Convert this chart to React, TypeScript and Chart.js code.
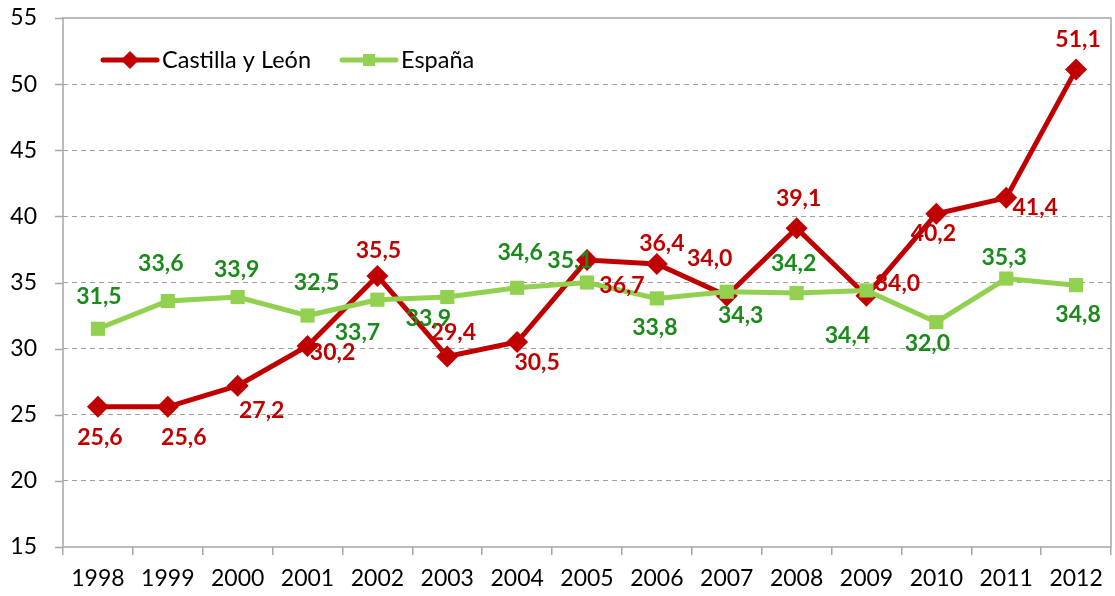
import React, { useEffect, useRef } from "react";
import { Chart, registerables } from "chart.js";

Chart.register(...registerables);

const years = ["1998", "1999", "2000", "2001", "2002", "2003", "2004", "2005", "2006", "2007", "2008", "2009", "2010", "2011", "2012"];
const castillaLeon = [25.6, 25.6, 27.2, 30.2, 35.5, 29.4, 30.5, 36.7, 36.4, 34.0, 39.1, 34.0, 40.2, 41.4, 51.1];
const espana = [31.5, 33.6, 33.9, 32.5, 33.7, 33.9, 34.6, 35.0, 33.8, 34.3, 34.2, 34.4, 32.0, 35.3, 34.8];
const castillaLeonLabels = ["25,6", "25,6", "27,2", "30,2", "35,5", "29,4", "30,5", "36,7", "36,4", "34,0", "39,1", "34,0", "40,2", "41,4", "51,1"];
const espanaLabels = ["31,5", "33,6", "33,9", "32,5", "33,7", "33,9", "34,6", "35,1", "33,8", "34,3", "34,2", "34,4", "32,0", "35,3", "34,8"];
const yTicks = [15, 20, 25, 30, 35, 40, 45, 50, 55];

// label offsets (px) relative to each point
const cylDx = [2, 16, 24, 25, 1, 6, 20, 35, 5, -17, 2, 31, -3, 29, 2];
const cylDy = [31, 31, 25, 7, -25, -24, 21, 26, -20, -37, -30, -12, 20, 10, -30];
const espDx = [1, -7, -1, 9, -20, -19, 3, -17, -2, 14, -3, -19, -9, -2, 2];
const espDy = [-32, -37, -27, -33, 33, 22, -35, -22, 29, 24, -30, 45, 21, -21, 29];

const RED = "#C00000";
const GREEN_LINE = "#92D050";
const GREEN_TEXT = "#1A8A1A";
const FONT = "Lato, 'Open Sans', sans-serif";

const labelPlugin = {
  id: "valueLabels",
  afterDatasetsDraw(chart: any) {
    const ctx = chart.ctx;
    ctx.save();
    ctx.font = `bold 23px ${FONT}`;
    ctx.textAlign = "center";
    ctx.textBaseline = "middle";
    const sets = [
      { idx: 0, labels: castillaLeonLabels, dx: cylDx, dy: cylDy, color: RED },
      { idx: 1, labels: espanaLabels, dx: espDx, dy: espDy, color: GREEN_TEXT },
    ];
    for (const s of sets) {
      const meta = chart.getDatasetMeta(s.idx);
      ctx.fillStyle = s.color;
      meta.data.forEach((pt: any, i: number) => {
        ctx.fillText(s.labels[i], pt.x + s.dx[i], pt.y + s.dy[i]);
      });
    }
    ctx.restore();
  },
};

const frameLegendPlugin = {
  id: "frameLegend",
  beforeDatasetsDraw(chart: any) {
    const { ctx, chartArea, scales } = chart;
    ctx.save();
    ctx.strokeStyle = "#A6A6A6";
    ctx.lineWidth = 1.5;
    ctx.strokeRect(chartArea.left, chartArea.top, chartArea.right - chartArea.left, chartArea.bottom - chartArea.top);
    for (const v of yTicks) {
      const y = Math.round(scales.y.getPixelForValue(v)) + 0.5;
      ctx.beginPath();
      ctx.moveTo(chartArea.left - 8, y);
      ctx.lineTo(chartArea.left, y);
      ctx.stroke();
    }
    ctx.restore();
  },
  afterDraw(chart: any) {
    const { ctx, chartArea } = chart;
    const y = chartArea.top + 42;
    const items = [
      { x: chartArea.left + 40, label: "Castilla y León", color: RED, style: "rectRot", r: 9 },
      { x: chartArea.left + 279, label: "España", color: GREEN_LINE, style: "rect", r: 8 },
    ];
    ctx.save();
    for (const it of items) {
      ctx.strokeStyle = it.color;
      ctx.lineWidth = 5;
      ctx.lineCap = "round";
      ctx.beginPath();
      ctx.moveTo(it.x, y);
      ctx.lineTo(it.x + 54, y);
      ctx.stroke();
      ctx.fillStyle = it.color;
      ctx.beginPath();
      if (it.style === "rectRot") {
        ctx.moveTo(it.x + 27, y - it.r);
        ctx.lineTo(it.x + 27 + it.r, y);
        ctx.lineTo(it.x + 27, y + it.r);
        ctx.lineTo(it.x + 27 - it.r, y);
      } else {
        const s = it.r * 0.75;
        ctx.rect(it.x + 27 - s, y - s, 2 * s, 2 * s);
      }
      ctx.closePath();
      ctx.fill();
      ctx.fillStyle = "#000";
      ctx.font = `23.5px ${FONT}`;
      ctx.textAlign = "left";
      ctx.textBaseline = "middle";
      ctx.fillText(it.label, it.x + 59, y);
    }
    ctx.restore();
  },
};

export default function App() {
  const ref = useRef<HTMLCanvasElement>(null);
  useEffect(() => {
    if (!ref.current) return;
    const chart = new Chart(ref.current, {
      type: "line",
      data: {
        labels: years,
        datasets: [
          {
            label: "Castilla y León",
            data: castillaLeon,
            borderColor: RED,
            backgroundColor: RED,
            borderWidth: 5,
            pointStyle: "rectRot",
            pointRadius: 11,
            pointBorderWidth: 0,
            tension: 0,
            order: 1,
          },
          {
            label: "España",
            data: espana,
            borderColor: GREEN_LINE,
            backgroundColor: GREEN_LINE,
            borderWidth: 5,
            pointStyle: "rect",
            pointRadius: 10,
            pointBorderWidth: 0,
            tension: 0,
            order: 0,
          },
        ],
      },
      options: {
        animation: false,
        responsive: true,
        maintainAspectRatio: false,
        layout: { padding: { top: 18, right: 0, left: 0, bottom: 0 } },
        plugins: {
          legend: { display: false },
          tooltip: { enabled: false },
        },
        scales: {
          x: {
            offset: true,
            grid: {
              offset: true,
              drawOnChartArea: false,
              drawTicks: true,
              tickLength: 8,
              color: "#A6A6A6",
              lineWidth: 1.5,
            },
            border: { display: false },
            ticks: {
              color: "#000",
              font: { family: FONT, size: 23 },
              padding: 10,
              maxRotation: 0,
              autoSkip: false,
            },
            afterFit(scale: any) {
              scale.height = 49;
              scale.paddingLeft = 0;
              scale.paddingRight = 0;
            },
          },
          y: {
            min: 15,
            max: 55,
            afterBuildTicks(scale: any) {
              scale.ticks = yTicks.map((v) => ({ value: v }));
            },
            grid: {
              color: (c: any) => (c.tick && (c.tick.value === 15 || c.tick.value === 55) ? "rgba(0,0,0,0)" : "#A0A0A0"),
              lineWidth: 1,
              drawTicks: false,
            },
            border: { display: false, dash: [5, 4] },
            ticks: {
              color: "#000",
              font: { family: FONT, size: 23 },
              padding: 26,
            },
            afterFit(scale: any) {
              scale.width = 63;
              scale.paddingTop = 0;
              scale.paddingBottom = 0;
            },
          },
        },
      },
      plugins: [frameLegendPlugin, labelPlugin],
    } as any);
    return () => chart.destroy();
  }, []);
  return (
    <div style={{ position: "absolute", left: 0, top: 0, width: 1115, height: 596, overflow: "hidden", background: "#fff" }}>
      <div style={{ position: "relative", width: 1122, height: 596 }}>
        <canvas ref={ref} />
      </div>
    </div>
  );
}
